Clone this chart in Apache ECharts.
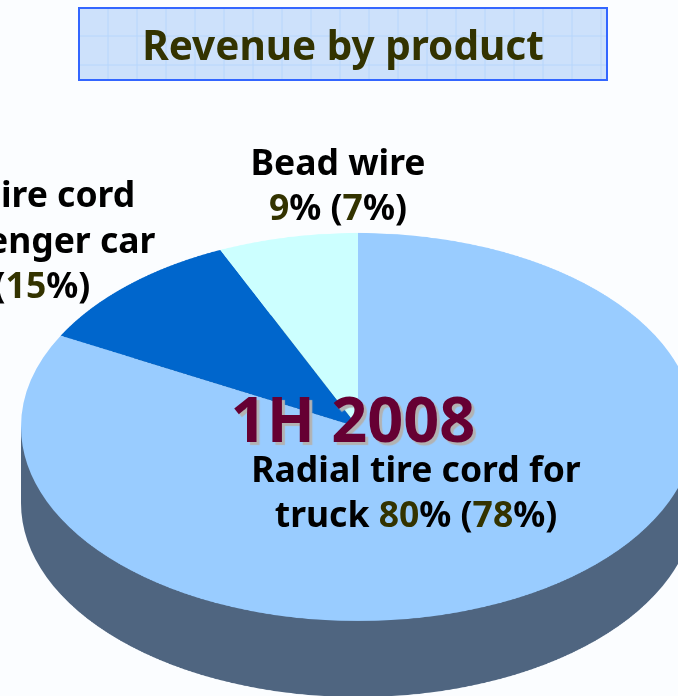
<!DOCTYPE html>
<html>
<head>
<meta charset="utf-8">
<style>
	html, body { margin: 0; padding: 0; width: 678px; height: 696px; overflow: hidden; background: #fbfdff; }
	#pie { position: absolute; left: 0; top: 0; width: 678px; height: 1209px; transform-origin: 0 0; transform: scaleY( 0.5757 ); }
	#text { position: absolute; left: 0; top: 0; width: 678px; height: 696px; }
</style>
<script src="https://cdn.jsdelivr.net/npm/echarts@6/dist/echarts.min.js"></script>
</head>
<body>
<div id="pie"></div>
<div id="text"></div>
<script>
const categories = [ 'Radial tire cord for truck', 'Radial tire cord for passenger car', 'Bead wire' ];
// Slice sizes as drawn in the picture, the perspective makes them differ from the labels.
const drawnShare = [ 82.8, 10.5, 6.7 ];
const shareNow = [ 80, 11, 9 ];
const sharePrior = [ 78, 15, 7 ];
const sliceColors = [ '#99ccff', '#0066cc', '#ccffff' ];
const labelLines = [
	[ 'Radial tire cord for', 'truck ' ],
	[ 'Radial tire cord', 'for passenger car', '' ],
	[ 'Bead wire', '' ]
];
const periodLabel = '1H 2008';
const chartTitle = 'Revenue by product';

const FONT = '"Noto Sans"';
const WALL = '#4f6580';

// The ellipse comes from squashing the pie div, see the css scaleY.
const pieChart = echarts.init( document.getElementById( 'pie' ), null, { renderer: 'canvas' } );
pieChart.setOption( {
	animation: false,
	graphic: [ {
		type: 'rect',
		z: -1,
		shape: { x: 21, y: 741.7, width: 674, height: 132 },
		style: { fill: WALL }
	} ],
	series: [
		{
			type: 'pie',
			silent: true,
			center: [ 358, 873.7 ],
			radius: [ 0, 337 ],
			label: { show: false },
			labelLine: { show: false },
			itemStyle: { color: WALL },
			data: [ { value: 1, name: 'side' } ]
		},
		{
			type: 'pie',
			silent: true,
			center: [ 358, 741.7 ],
			radius: [ 0, 337 ],
			startAngle: 90,
			clockwise: true,
			label: { show: false },
			labelLine: { show: false },
			data: categories.map( ( name, i ) => ( {
				name,
				value: drawnShare[ i ],
				itemStyle: { color: sliceColors[ i ] }
			} ) )
		}
	]
} );

const richStyle = {
	k: { fontFamily: FONT, fontWeight: 'bold', fontSize: 35.5, fill: '#000', color: '#000' },
	n: { fontFamily: FONT, fontWeight: 'bold', fontSize: 35.5, fill: '#333300', color: '#333300' }
};
const shareText = ( i ) => `{n|${ shareNow[ i ] }}{k|% (}{n|${ sharePrior[ i ] }}{k|%)}`;

const lineText = ( x, y, text ) => ( {
	type: 'text',
	x,
	y,
	style: { text, align: 'center', verticalAlign: 'middle', rich: richStyle }
} );

// Title box with its faint grid
const titleBox = [ {
	type: 'rect',
	shape: { x: 79, y: 8, width: 528, height: 72 },
	style: { fill: '#cde1fb', stroke: '#3366ff', lineWidth: 2 }
} ];
for ( let x = 108; x < 606; x += 29 ) {
	titleBox.push( {
		type: 'line',
		shape: { x1: x, y1: 9, x2: x, y2: 79 },
		style: { stroke: '#b7d6fc', lineWidth: 1 }
	} );
}
[ 36, 65 ].forEach( ( y ) => {
	titleBox.push( {
		type: 'line',
		shape: { x1: 80, y1: y, x2: 606, y2: y },
		style: { stroke: '#b7d6fc', lineWidth: 1 }
	} );
} );

const textChart = echarts.init( document.getElementById( 'text' ), null, { renderer: 'canvas' } );
textChart.setOption( {
	animation: false,
	graphic: [
		...titleBox,
		{
			type: 'text',
			x: 343,
			y: 48,
			style: {
				text: chartTitle,
				align: 'center',
				verticalAlign: 'middle',
				fontFamily: FONT,
				fontWeight: 'bold',
				fontSize: 40.5,
				fill: '#333300'
			}
		},
		{
			type: 'text',
			x: 353,
			y: 424,
			style: {
				text: periodLabel,
				align: 'center',
				verticalAlign: 'middle',
				fontFamily: FONT,
				fontWeight: 'bold',
				fontSize: 63,
				fill: '#660033',
				textShadowColor: '#b2b2b2',
				textShadowBlur: 1,
				textShadowOffsetX: 3,
				textShadowOffsetY: 3
			}
		},
		lineText( 416, 472, `{k|${ labelLines[ 0 ][ 0 ] }}` ),
		lineText( 416, 517, `{k|${ labelLines[ 0 ][ 1 ] }}` + shareText( 0 ) ),
		lineText( 1, 197, `{k|${ labelLines[ 1 ][ 0 ] }}` ),
		lineText( 1, 243, `{k|${ labelLines[ 1 ][ 1 ] }}` ),
		lineText( 1, 288, shareText( 1 ) ),
		lineText( 338, 165, `{k|${ labelLines[ 2 ][ 0 ] }}` ),
		lineText( 338, 210, shareText( 2 ) )
	]
} );
</script>
</body>
</html>
